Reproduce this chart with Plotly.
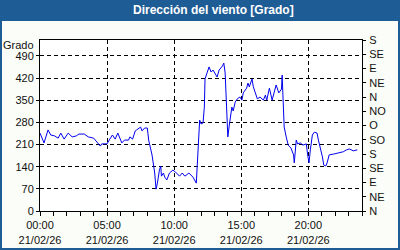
import plotly.graph_objects as go

DATE = "2026-02-21"
times = ["00:00","00:18","00:36","00:48","01:06","01:21","01:33","01:48","02:06","02:24",
         "02:42","02:54","03:18","03:36","04:00","04:12","04:30","04:36","05:00","05:12",
         "05:24","05:36","05:48","06:06","06:18","06:36","06:42","06:54","07:06","07:12",
         "07:30","07:36","07:48","08:00","08:06","08:21","08:27","08:33","08:39","08:45",
         "08:54","09:00","09:03","09:12","09:18","09:27","09:39","09:54","10:06","10:24",
         "10:36","10:48","11:06","11:24","11:39","11:42","11:48","11:54","12:00","12:09",
         "12:15","12:18","12:27","12:36","12:45","12:54","13:12","13:21","13:36","13:42",
         "13:48","13:54","13:57","14:00","14:06","14:12","14:18","14:24","14:33","14:42",
         "14:54","15:03","15:09","15:24","15:30","15:36","15:48","15:54","16:03","16:12",
         "16:24","16:39","16:48","16:54","17:06","17:18","17:36","17:48","18:00","18:03",
         "18:06","18:12","18:21","18:30","18:42","18:54","18:57","19:00","19:06","19:12",
         "19:24","19:36","19:51","19:57","20:03","20:09","20:18","20:27","20:39","20:45",
         "20:54","21:03","21:09","21:18","21:24","21:33","21:54","22:12","22:24","22:36",
         "22:51","23:03","23:21","23:39"]
direction = [246,215,256,240,237,230,246,227,246,234,
             237,243,243,234,230,221,205,212,212,227,
             240,227,246,215,224,224,234,227,253,256,
             265,253,262,262,224,177,145,120,69,88,
             129,142,110,120,107,98,120,129,123,110,
             120,110,120,107,88,139,234,287,275,278,
             328,417,436,455,439,445,423,445,458,467,
             436,350,265,234,268,297,328,316,344,354,
             360,350,373,388,404,392,417,392,376,354,
             360,350,366,350,388,350,398,373,385,429,
             373,265,234,208,199,177,152,183,224,212,
             215,208,212,177,152,193,240,249,246,224,
             199,171,145,142,152,177,180,183,183,187,
             193,196,190,193]

left_ticks = [0, 70, 140, 210, 280, 350, 420, 490]
right_ticks = [0, 45, 90, 135, 180, 225, 270, 315, 360, 405, 450, 495, 540]
right_labels = ["N", "NE", "E", "SE", "S", "SO", "O", "NO", "N", "NE", "E", "SE", "S"]

x = [f"{DATE} {t}" for t in times]

BLUE = "#1e5c96"
FONT = dict(family="Liberation Sans, DejaVu Sans, sans-serif", size=11, color="#111111")

fig = go.Figure()
fig.add_trace(go.Scatter(x=x, y=direction, mode="lines",
                         line=dict(color="#0000ee", width=1), hoverinfo="skip",
                         showlegend=False))
fig.add_trace(go.Scatter(x=x, y=direction, mode="lines", yaxis="y2",
                         line=dict(color="rgba(0,0,0,0)", width=1), hoverinfo="skip",
                         showlegend=False))

L, R, T, B = 40, 38, 40, 39
W, H = 400, 250
pw, ph = W - L - R, H - T - B

def px_x(p):
    return (p - L) / pw

def px_y(p):
    return (H - B - p) / ph

fig.update_layout(
    width=W, height=H,
    margin=dict(l=L, r=R, t=T, b=B, autoexpand=False),
    paper_bgcolor="#fbfdf8",
    plot_bgcolor="#ffffff",
    font=FONT,
    xaxis=dict(
        type="date",
        range=[f"{DATE} 00:00", "2026-02-22 00:00"],
        dtick=5 * 3600000,
        tick0=f"{DATE} 00:00",
        tickformat="%H:%M<br>%d/%m/%y",
        ticks="outside", ticklen=4, tickcolor="#000",
        minor=dict(dtick=3600000, ticks="outside", ticklen=4, tickcolor="#000", showgrid=False),
        showgrid=True, gridcolor="#000", griddash="4px,3px", gridwidth=1,
        showline=True, linecolor="#000", linewidth=1, mirror=True,
        zeroline=False, fixedrange=True, automargin=False,
    ),
    yaxis=dict(
        range=[0, 540],
        tickvals=left_ticks,
        ticks="outside", ticklen=3, tickcolor="#000",
        showgrid=True, gridcolor="#000", griddash="4px,3px", gridwidth=1,
        showline=True, linecolor="#000", linewidth=1, mirror=True,
        zeroline=False, fixedrange=True, automargin=False,
    ),
    yaxis2=dict(
        range=[0, 540], overlaying="y", side="right",
        tickvals=right_ticks, ticktext=right_labels,
        ticks="outside", ticklen=3, tickcolor="#000",
        showgrid=False, zeroline=False, showline=False, fixedrange=True,
        ticklabelstandoff=1, automargin=False,
    ),
    shapes=[
        dict(type="rect", xref="paper", yref="paper", layer="above",
             x0=px_x(0), x1=px_x(W), y0=px_y(21), y1=px_y(0),
             fillcolor=BLUE, line=dict(width=0)),
        dict(type="rect", xref="paper", yref="paper", layer="above",
             x0=px_x(0), x1=px_x(2), y0=px_y(H), y1=px_y(0),
             fillcolor=BLUE, line=dict(width=0)),
        dict(type="rect", xref="paper", yref="paper", layer="above",
             x0=px_x(W - 2), x1=px_x(W), y0=px_y(H), y1=px_y(0),
             fillcolor=BLUE, line=dict(width=0)),
        dict(type="rect", xref="paper", yref="paper", layer="above",
             x0=px_x(0), x1=px_x(W), y0=px_y(H), y1=px_y(H - 2),
             fillcolor=BLUE, line=dict(width=0)),
    ],
    annotations=[
        dict(text="<b>Dirección del viento [Grado]</b>", xref="paper", yref="paper",
             x=px_x(213), y=px_y(10.5), xanchor="center", yanchor="middle",
             showarrow=False, font=dict(family=FONT["family"], size=12, color="#ffffff")),
        dict(text="Grado", xref="paper", yref="paper",
             x=px_x(36), y=px_y(45), xanchor="right", yanchor="middle",
             showarrow=False, font=FONT),
    ],
)

fig.write_html("out.html")
